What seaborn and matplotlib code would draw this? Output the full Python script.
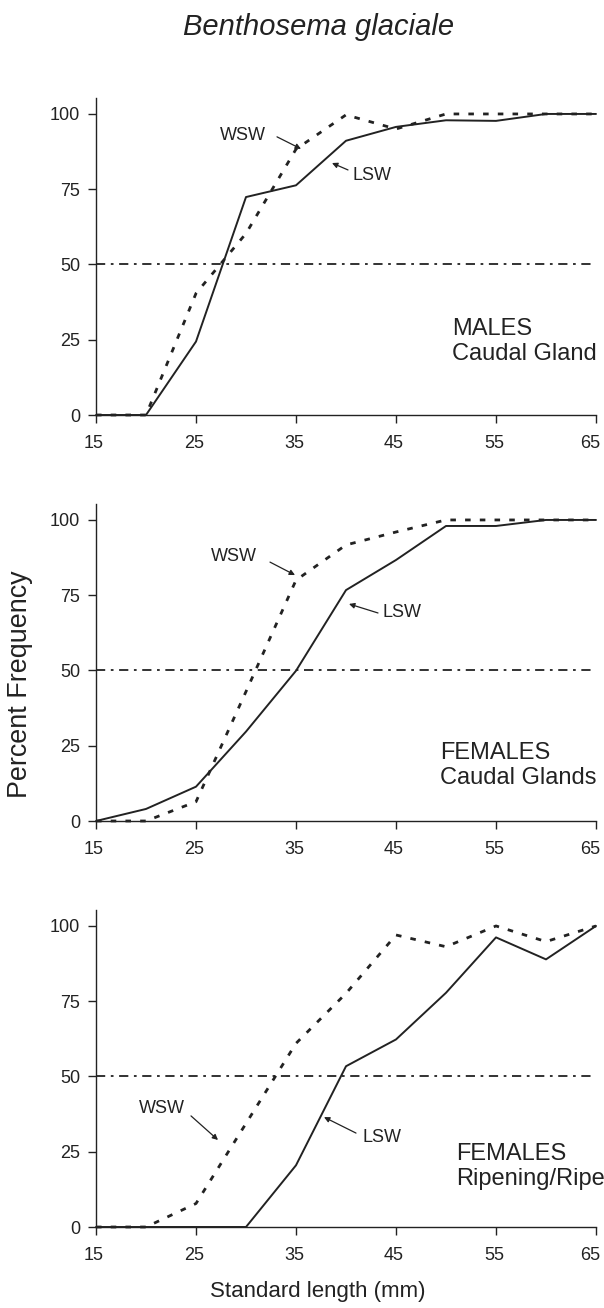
import pandas as pd
import seaborn as sns
import matplotlib.pyplot as plt
from matplotlib.transforms import ScaledTranslation

# Standard length classes (mm)
length_mm = [15, 20, 25, 30, 35, 40, 45, 50, 55, 60, 65]

# Percent frequency
males_lsw = [0, 0, 24.4, 72.4, 76.3, 91.1, 95.7, 97.9, 97.7, 100, 100]
males_wsw = [0, 0, 40.4, 60.3, 88.3, 99.7, 95.0, 100, 100, 100, 100]
fem_cg_lsw = [0, 4.0, 11.4, 29.7, 49.9, 76.7, 86.7, 98.0, 98.0, 100, 100]
fem_cg_wsw = [0, 0, 6.4, 43.0, 80.0, 91.7, 96.0, 100, 100, 100, 100]
fem_rr_lsw = [0, 0, 0, 0, 20.5, 53.4, 62.3, 77.8, 96.2, 88.9, 100]
fem_rr_wsw = [0, 0, 7.8, 34.4, 61.0, 77.6, 97.0, 93.1, 100, 94.8, 100]

panel_titles = ["MALES\nCaudal Gland",
                "FEMALES\nCaudal Glands",
                "FEMALES\nRipening/Ripe"]
x_ticks = [15, 25, 35, 45, 55, 65]
y_ticks = [0, 25, 50, 75, 100]

sns.set_style("ticks")
plt.rcParams['font.family'] = ['Liberation Sans', 'DejaVu Sans']
ink = '#222222'

panels = [(males_lsw, males_wsw), (fem_cg_lsw, fem_cg_wsw), (fem_rr_lsw, fem_rr_wsw)]

# label / arrow placement per panel (data coords); txt y = baseline of last line
notes = [
    dict(wsw=(29.7, 93.0), wsw_arr=((33.1, 92.4), (35.5, 88.4)),
         lsw=(42.6, 79.7), lsw_arr=((40.2, 81.4), (38.6, 83.7)),
         txt=(50.6, 18.3)),
    dict(wsw=(28.8, 88.0), wsw_arr=((32.4, 86.0), (34.9, 81.7)),
         lsw=(45.6, 69.1), lsw_arr=((43.2, 69.1), (40.3, 72.1)),
         txt=(49.4, 12.3)),
    dict(wsw=(21.6, 39.5), wsw_arr=((24.5, 36.9), (27.2, 28.9)),
         lsw=(43.6, 29.6), lsw_arr=((41.0, 31.2), (37.8, 36.5)),
         txt=(51.0, 14.0)),
]

fig = plt.figure(figsize=(6.04, 13.08), dpi=100)
bottoms = [1 - 415 / 1308, 1 - 821 / 1308, 1 - 1227 / 1308]

for i, ((lsw, wsw), title, nt) in enumerate(zip(panels, panel_titles, notes)):
    ax = fig.add_axes([96 / 604, bottoms[i], 500 / 604, 317 / 1308])
    df = pd.DataFrame({'length': length_mm, 'LSW': lsw, 'WSW': wsw})

    ax.axhline(50, color=ink, lw=1.3, linestyle=(0, (5.1, 3.1, 1.5, 3.1)))
    sns.lineplot(data=df, x='length', y='WSW', ax=ax, color=ink, lw=2.0, clip_on=False)
    ax.lines[-1].set_linestyle((0, (2.0, 3.3)))
    sns.lineplot(data=df, x='length', y='LSW', ax=ax, color=ink, lw=1.4, clip_on=False)

    ax.set_xlim(15, 65)
    ax.set_ylim(0, 105.3)
    ax.set_xticks(x_ticks)
    ax.set_yticks(y_ticks)
    ax.set_xlabel('')
    ax.set_ylabel('')
    ax.tick_params(axis='both', direction='out', length=5.5, width=1, colors=ink,
                   labelsize=13, labelcolor=ink)
    ax.tick_params(axis='x', pad=9)
    ax.tick_params(axis='y', pad=6)
    sns.despine(ax=ax)
    for s in ['left', 'bottom']:
        ax.spines[s].set_color(ink)
        ax.spines[s].set_linewidth(1)
    # nudge x tick labels slightly left, the last one a bit more so it fits
    for j, lab in enumerate(ax.get_xticklabels()):
        dx = -6 if j == len(x_ticks) - 1 else -2
        lab.set_transform(lab.get_transform() + ScaledTranslation(dx / 100, 0, fig.dpi_scale_trans))

    ax.text(*nt['wsw'], 'WSW', ha='center', va='center', fontsize=13, color=ink)
    ax.text(*nt['lsw'], 'LSW', ha='center', va='center', fontsize=13, color=ink)
    for tail, head in [nt['wsw_arr'], nt['lsw_arr']]:
        ax.annotate('', xy=head, xytext=tail,
                    arrowprops=dict(arrowstyle='-|>', color=ink, lw=0.9,
                                    mutation_scale=8, shrinkA=0, shrinkB=0))
    ax.text(*nt['txt'], title, ha='left', va='baseline', fontsize=17, color=ink,
            linespacing=1.15)

fig.text(319 / 604, 1 - 27 / 1308, 'Benthosema glaciale', ha='center', va='center',
         fontsize=21, style='italic', color=ink)
fig.text(20 / 604, 1 - 684 / 1308, 'Percent Frequency', ha='center', va='center',
         rotation=90, fontsize=19.4, color=ink)
fig.text(318 / 604, 1 - 1292 / 1308, 'Standard length (mm)', ha='center', va='center',
         fontsize=16, color=ink)

fig.savefig('out.png', dpi=100)
